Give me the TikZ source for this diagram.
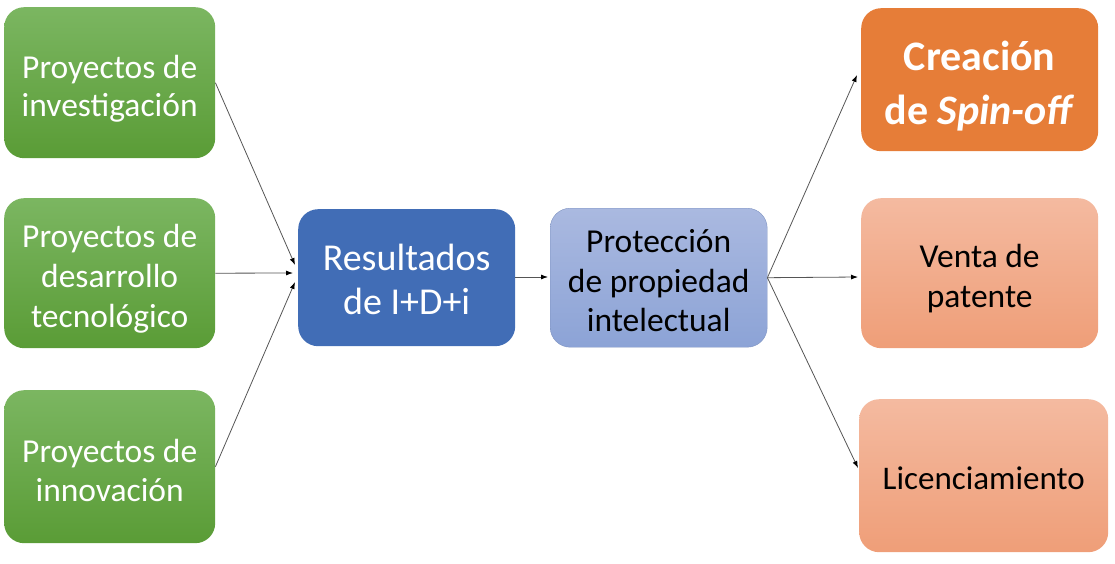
\documentclass[tikz,border=0pt]{standalone}
\usepackage{fontspec}
\setmainfont{Carlito}
\usetikzlibrary{arrows.meta}
\definecolor{gtop}{HTML}{7BB661}
\definecolor{gbot}{HTML}{5A9C36}
\definecolor{bluebox}{HTML}{416DB6}
\definecolor{ltop}{HTML}{AAB9E0}
\definecolor{lbot}{HTML}{8CA3D6}
\definecolor{orangebox}{HTML}{E67D38}
\definecolor{stop}{HTML}{F4BAA0}
\definecolor{sbot}{HTML}{EF9E78}
\definecolor{arrowgray}{HTML}{555555}
\tikzset{
  box/.style={rounded corners=20pt, inner sep=0pt, anchor=north west},
  greenbox/.style={box, top color=gtop, bottom color=gbot},
  salmonbox/.style={box, top color=stop, bottom color=sbot},
  txt/.style={align=center, inner sep=0pt},
  wtxt/.style={txt, text=white},
  conn/.style={draw=arrowgray, line width=0.8pt, -{Latex[length=7pt,width=5pt,color=black]}},
}
\begin{document}
\begin{tikzpicture}[x=1pt,y=-1pt]
\useasboundingbox (0,0) rectangle (1115,564);
% left column
\node[greenbox, minimum width=211pt, minimum height=151pt] (g1) at (4,7) {};
\node[greenbox, minimum width=211pt, minimum height=150pt] (g2) at (4,198) {};
\node[greenbox, minimum width=211pt, minimum height=153pt] (g3) at (4,390) {};
\node[wtxt, font=\fontsize{33.5}{38.5}\selectfont] (g1t) at ([yshift=-6pt]g1.center) {Proyectos de\\investigación};
\node[wtxt, font=\fontsize{33.5}{40}\selectfont] (g2t) at ([yshift=-6pt]g2.center) {Proyectos de\\desarrollo\\tecnológico};
\node[wtxt, font=\fontsize{33.5}{39}\selectfont] (g3t) at ([yshift=-4pt]g3.center) {Proyectos de\\innovación};
% center
\node[box, fill=bluebox, minimum width=217pt, minimum height=137pt] (res) at (298,209) {};
\node[wtxt, font=\fontsize{38}{44}\selectfont] (rest) at ([yshift=-2pt]res.center) {Resultados\\de I+D+i};
\node[box, top color=ltop, bottom color=lbot, draw=lbot!90!black, line width=0.4pt, minimum width=217pt, minimum height=139pt] (prot) at (550,208) {};
\node[txt, font=\fontsize{33.5}{39.5}\selectfont] (prott) at ([yshift=-3pt]prot.center) {Protección\\de propiedad\\intelectual};
% right column
\node[box, fill=orangebox, minimum width=237pt, minimum height=143pt] (spin) at (861,8) {};
\node[wtxt, font=\bfseries\fontsize{42}{54}\selectfont] (spint) at ([yshift=-6pt]spin.center) {Creación\\de \textit{Spin-off}};
\node[salmonbox, minimum width=237pt, minimum height=150pt] (venta) at (861,198) {};
\node[txt, font=\fontsize{33.5}{40}\selectfont] (ventat) at ([yshift=-5pt]venta.center) {Venta de\\patente};
\node[salmonbox, minimum width=249pt, minimum height=153pt] (lic) at (859,399) {};
\node[txt, font=\fontsize{33}{40}\selectfont] (lict) at ([yshift=-3pt]lic.center) {Licenciamiento};
% target points
\coordinate (r1) at (295,265);
\coordinate (r2) at (293,273);
\coordinate (r3) at (295,282);
\coordinate (p1) at (548,277);
\coordinate (s1) at (857,75);
\coordinate (v1) at (858,277);
\coordinate (l1) at (858,468);
% connectors
\draw[conn] (g1.east) -- (r1);
\draw[conn] (g2.east) -- (r2);
\draw[conn] (g3.east) -- (r3);
\draw[conn] (res.east |- p1) -- (p1);
\draw[conn] (prot.east) -- (s1);
\draw[conn] (prot.east) -- (v1);
\draw[conn] (prot.east) -- (l1);
\end{tikzpicture}
\end{document}
